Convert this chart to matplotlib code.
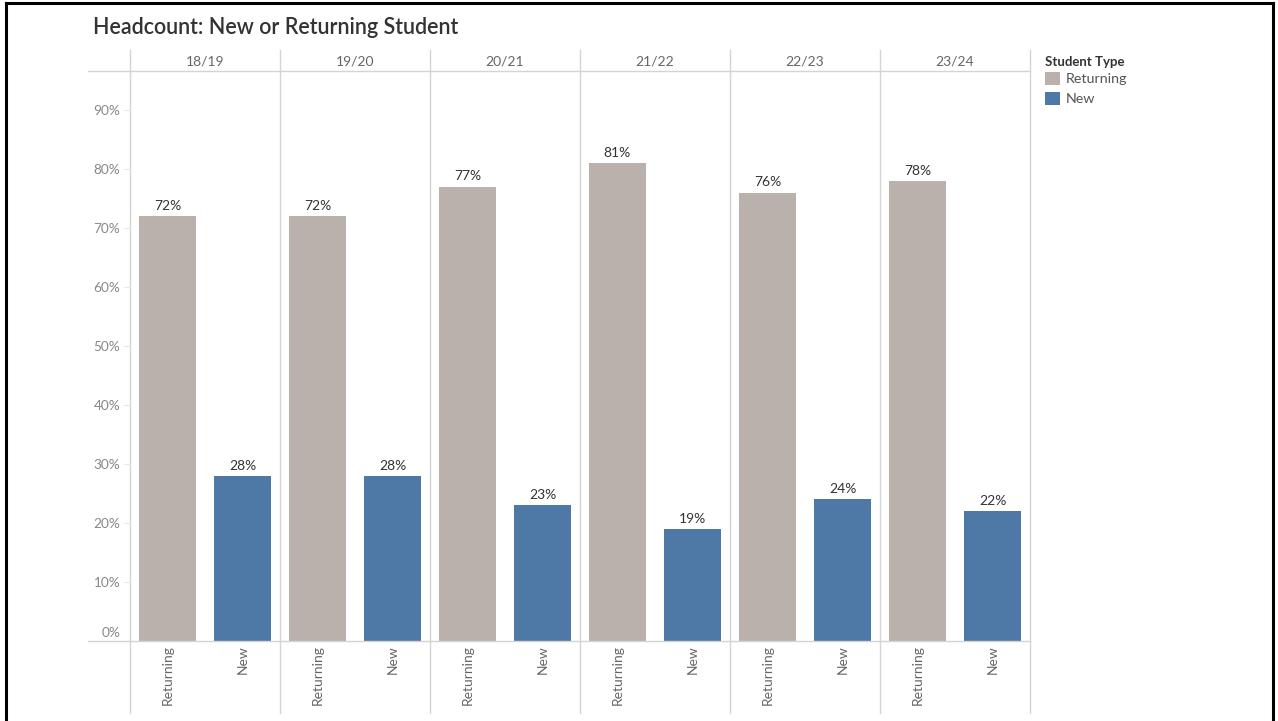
import matplotlib.pyplot as plt
from matplotlib.lines import Line2D
from matplotlib import transforms
import numpy as np

plt.rcParams['font.family'] = ['Lato', 'DejaVu Sans']

years = ['18/19', '19/20', '20/21', '21/22', '22/23', '23/24']
student_types = ['Returning', 'New']
returning_pct = [72, 72, 77, 81, 76, 78]
new_pct = [28, 28, 23, 19, 24, 22]
yticks = [0, 10, 20, 30, 40, 50, 60, 70, 80, 90]

C_RET = '#bab0ac'
C_NEW = '#4e79a7'
GRID = '#d4d4d4'

W, H = 1278, 721
fig = plt.figure(figsize=(W / 100, H / 100), dpi=100)

def fx(px):
    return px / W

def fy(py):
    return 1 - py / H

ax = fig.add_axes([fx(130), fy(641), fx(1030) - fx(130), fy(71) - fy(641)])

n = len(years)
x_ret = np.arange(n) * 2 + 0.5
x_new = np.arange(n) * 2 + 1.5
bw = 0.75

b_ret = ax.bar(x_ret, returning_pct, width=bw, color=C_RET, label='Returning', zorder=2)
b_new = ax.bar(x_new, new_pct, width=bw, color=C_NEW, label='New', zorder=2)

for bars, vals in ((b_ret, returning_pct), (b_new, new_pct)):
    for rect, v in zip(bars, vals):
        ax.annotate(f'{v}%', (rect.get_x() + rect.get_width() / 2, v),
                    xytext=(0, 3), textcoords='offset points',
                    ha='center', va='bottom', fontsize=10, color='#333333')

ax.set_xlim(0, 2 * n)
ax.set_ylim(0, 96.6)
for s in ax.spines.values():
    s.set_visible(False)

ax.set_yticks(yticks)
ax.set_yticklabels([f'{t}%' for t in yticks])
ax.tick_params(axis='y', length=4, color='#e6e6e6', labelcolor='#888888',
               labelsize=9.8, pad=3)
ax.set_xticks([])
# lift the 0% label off the baseline
lab0 = ax.get_yticklabels()[0]
lab0.set_transform(lab0.get_transform() +
                   transforms.ScaledTranslation(0, 9 / 100, fig.dpi_scale_trans))

# panel dividers and header/baseline rules
trans = transforms.blended_transform_factory(ax.transData, ax.transAxes)
y_lo = (641 - 713) / 570
y_hi = (641 - 50) / 570
for i in range(n + 1):
    ax.plot([2 * i, 2 * i], [y_lo, y_hi], transform=trans, color=GRID,
            lw=1, clip_on=False, zorder=1)
x_left = (88 - 130) / 900
for yy in (0, 1):
    ax.plot([x_left, 1], [yy, yy], transform=ax.transAxes, color=GRID,
            lw=1, clip_on=False, zorder=3)

for i, yr in enumerate(years):
    ax.text(2 * i + 1, (641 - 61) / 570, yr, transform=trans, ha='center',
            va='center', fontsize=10, color='#666666')
    for xc, lab in ((x_ret[i], student_types[0]), (x_new[i], student_types[1])):
        ax.text(xc, -4 / 570, lab, transform=trans, rotation=90, ha='center',
                va='top', fontsize=10, color='#666666')

fig.text(fx(93), fy(28), 'Headcount: New or Returning Student', fontsize=15.5,
         fontweight='semibold', color='#333333', ha='left', va='center')

leg = fig.legend(handles=[b_ret, b_new], labels=student_types, loc='upper left',
                 bbox_to_anchor=(fx(1039), fy(50)), frameon=False,
                 title='Student Type', alignment='left', fontsize=10.3,
                 title_fontproperties={'weight': 'bold', 'size': 9.5},
                 handlelength=1.05, handleheight=1.05, handletextpad=0.45,
                 labelspacing=0.45, borderaxespad=0)
leg._legend_box.sep = 3
for t in leg.get_texts():
    t.set_color('#555555')
leg.get_title().set_color('#333333')

# outer frame
for xs, ys in (([fx(6), fx(6)], [0, fy(3)]),
               ([fx(6), fx(1273)], [fy(3), fy(3)]),
               ([fx(1273), fx(1273)], [fy(3), 0])):
    fig.add_artist(Line2D(xs, ys, color='black', lw=2.2))

fig.savefig('out.png', dpi=100, facecolor='white')
